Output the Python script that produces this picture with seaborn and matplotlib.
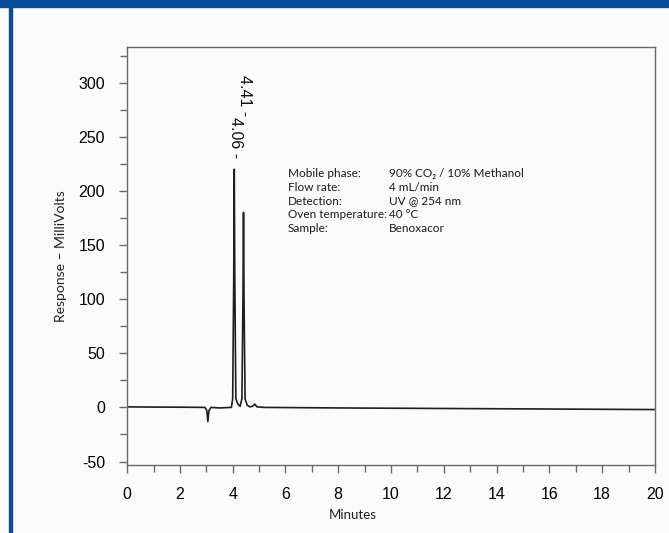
import numpy as np
import pandas as pd
import matplotlib
matplotlib.use("Agg")
import matplotlib.pyplot as plt
import seaborn as sns
from matplotlib import font_manager
from matplotlib.ticker import MultipleLocator
from matplotlib.patches import Rectangle

# chromatogram trace (minutes, millivolts)
time_min = [0.0, 1.0, 2.0, 2.95, 3.02, 3.06, 3.10, 3.18, 3.5, 3.95, 4.00, 4.04, 4.06,
            4.08, 4.12, 4.20, 4.28, 4.35, 4.39, 4.41, 4.43, 4.47, 4.55, 4.65, 4.75,
            4.84, 4.92, 5.2, 8.0, 12.0, 16.0, 20.0]
response_mv = [0.5, 0.3, 0.2, 0.0, -3.0, -13.0, -3.0, 0.0, -0.5, 0.0, 8.0, 120.0, 220.0,
               120.0, 8.0, 3.0, 1.0, 8.0, 100.0, 180.0, 100.0, 8.0, 2.0, 0.5, 1.0,
               3.0, 0.5, 0.0, -0.5, -1.0, -1.5, -2.0]

# peak labels
peak_times = [4.06, 4.41]
peak_label_y = [268, 307]

cond_names = ["Mobile phase:", "Flow rate:", "Detection:", "Oven temperature:", "Sample:"]
cond_values = ["90% CO₂ / 10% Methanol", "4 mL/min", "UV @ 254 nm", "40 °C", "Benoxacor"]

df = pd.DataFrame({"Minutes": time_min, "Response": response_mv})

sns.set_style("ticks")
plt.rcParams["font.family"] = ["Liberation Sans", "DejaVu Sans"]
plt.rcParams["axes.unicode_minus"] = False

# condensed font for the condition block if there is one
installed = {f.name for f in font_manager.fontManager.ttflist}
if "Liberation Sans Narrow" in installed:
    cond_font, cond_size = ["Liberation Sans Narrow", "DejaVu Sans"], 10.0
else:
    cond_font, cond_size = ["Lato", "DejaVu Sans"], 8.5

fig = plt.figure(figsize=(6.69, 5.33), dpi=100, facecolor="#fbfbfb")
ax = fig.add_axes([0.190, 0.128, 0.789, 0.784])
ax.set_facecolor("#fbfbfb")

# page decoration: blue header bar and left rule
blue = "#0a4c9c"
fig.patches.append(Rectangle((0, 0.987), 1, 0.013, transform=fig.transFigure, color=blue))
fig.patches.append(Rectangle((0.0135, 0), 0.0045, 1, transform=fig.transFigure, color=blue))

sns.lineplot(data=df, x="Minutes", y="Response", ax=ax, color="#1e1e1e", linewidth=1.2)

ax.set_xlim(0, 20)
ax.xaxis.set_major_locator(MultipleLocator(2))
ax.xaxis.set_minor_locator(MultipleLocator(1))
ax.set_yticks(range(-50, 301, 50))
ax.yaxis.set_minor_locator(MultipleLocator(25))
ax.set_ylim(-53, 333)

for s in ax.spines.values():
    s.set_color("#6a6a6a")
    s.set_linewidth(1.0)
ax.tick_params(which="major", length=6, width=1, color="#6a6a6a", labelsize=11.5,
               labelcolor="#000000", pad=10)
ax.tick_params(which="minor", length=5, width=1, color="#6a6a6a")

label_font = ["Lato", "DejaVu Sans"]
ax.set_xlabel("Minutes", fontsize=9.5, family=label_font, color="#222222")
ax.xaxis.set_label_coords(0.427, -0.105)
ax.set_ylabel("Response – MilliVolts", fontsize=10, family=label_font, color="#222222")
ax.yaxis.set_label_coords(-0.113, 0.5)

for t, y in zip(peak_times, peak_label_y):
    ax.text(t + 0.03, y, f"{t:.2f} -", rotation=-90, ha="center", va="top",
            fontsize=11.5, color="#111111")

# conditions block, one row per line
row_top = (465 - 174) / 418
row_step = 13.6 / 418
for i, (name, value) in enumerate(zip(cond_names, cond_values)):
    yy = row_top - i * row_step
    ax.text(0.304, yy, name, transform=ax.transAxes, fontsize=cond_size,
            family=cond_font, color="#1a1a1a", va="center")
    ax.text(0.496, yy, value, transform=ax.transAxes, fontsize=cond_size,
            family=cond_font, color="#1a1a1a", va="center")

fig.savefig("out.png", dpi=100, facecolor=fig.get_facecolor())
